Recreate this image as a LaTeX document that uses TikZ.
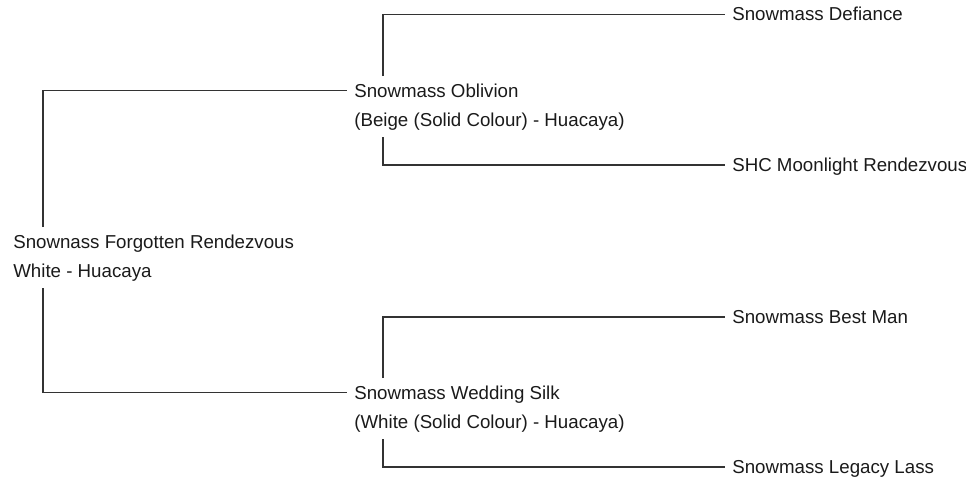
\documentclass[tikz,border=0pt]{standalone}
\usepackage{fontspec}
\setmainfont{Liberation Sans}
\usetikzlibrary{calc}

\definecolor{linegray}{HTML}{333333}
\definecolor{textgray}{HTML}{1A1A1A}

\tikzset{
    horse/.style={anchor=base west, align=left, inner sep=5pt, text=textgray,
        font=\fontsize{13.3pt}{20.6pt}\selectfont},
    link/.style={draw=linegray, line width=1.05pt}
}

\begin{document}
\begin{tikzpicture}[x=0.025cm,y=-0.025cm]
    \useasboundingbox (0,0) rectangle (966,480);

    \coordinate (trunk) at (43,0);
    \coordinate (sirebar) at (383,0);
    \coordinate (dambar) at (383,0);

    \node[horse] (forgotten) at (6,277) {Snownass Forgotten Rendezvous\\White - Huacaya};
    \node[horse] (oblivion) at (347,126) {Snowmass Oblivion\\(Beige (Solid Colour) - Huacaya)};
    \node[horse] (wedding) at (347,428) {Snowmass Wedding Silk\\(White (Solid Colour) - Huacaya)};

    \node[horse] (defiance) at (725,21) {Snowmass Defiance};
    \node[horse] (moonlight) at (725,171.5) {SHC Moonlight Rendezvous};
    \node[horse] (bestman) at (725,323.5) {Snowmass Best Man};
    \node[horse] (legacy) at (725,473.5) {Snowmass Legacy Lass};

    \draw[link] (forgotten.north -| trunk) |- ([yshift=0.89cm]oblivion.base west);
    \draw[link] (forgotten.south -| trunk) |- ([yshift=0.89cm]wedding.base west);

    \draw[link] (oblivion.north -| sirebar) |- ([yshift=0.165cm]defiance.base west);
    \draw[link] (oblivion.south -| sirebar) |- ([yshift=0.165cm]moonlight.base west);

    \draw[link] (wedding.north -| dambar) |- ([yshift=0.165cm]bestman.base west);
    \draw[link] (wedding.south -| dambar) |- ([yshift=0.165cm]legacy.base west);
\end{tikzpicture}
\end{document}
